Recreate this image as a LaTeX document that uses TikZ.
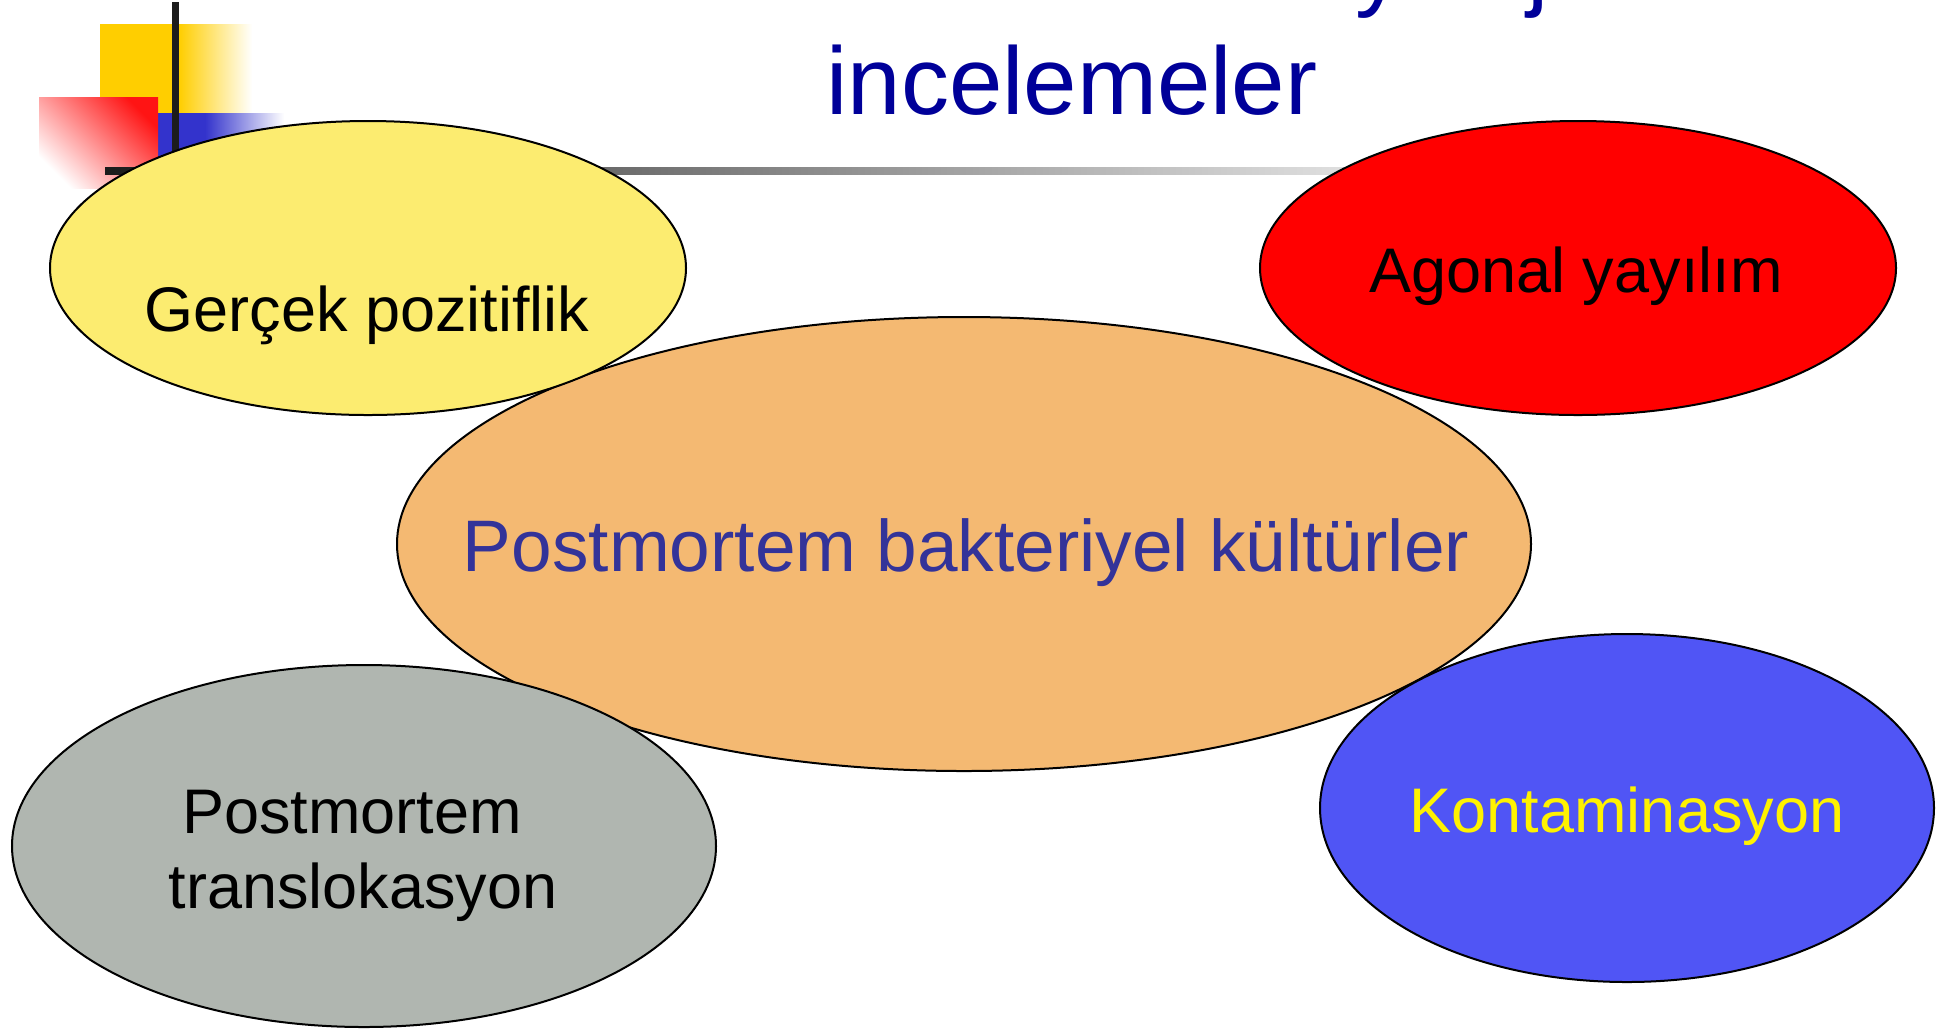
\documentclass[tikz,border=0pt]{standalone}
\usepackage{fontspec}
\setmainfont{Liberation Sans}
\usetikzlibrary{shapes.geometric}

\definecolor{titleblue}{RGB}{0,0,153}
\definecolor{textblue}{RGB}{51,51,153}
\definecolor{decoyellow}{RGB}{255,206,0}
\definecolor{decoblue}{RGB}{51,51,204}
\definecolor{decored}{RGB}{255,20,20}
\definecolor{barblack}{RGB}{28,28,28}
\definecolor{fillyellow}{RGB}{252,236,112}
\definecolor{fillorange}{RGB}{244,185,114}
\definecolor{fillgray}{RGB}{176,182,176}
\definecolor{fillblue}{RGB}{80,85,245}

\begin{document}
\begin{tikzpicture}
      [x = 0.5pt, y = -0.5pt,
      blob/.style= {
         draw,
         ellipse,
         line width = 1pt,
         inner sep = 0pt
      },
      lbl/.style= {
         inner sep = 0pt,
         anchor = base,
         font = \fontsize{31.5pt}{37.5pt}\selectfont
      },
      headline/.style= {
         inner sep = 0pt,
         text = titleblue,
         font = \fontsize{48pt}{56pt}\selectfont
      }]

      \useasboundingbox (0, 0) rectangle (1952, 1030);

      % corner decoration
      \fill[decoyellow] (100, 24) rectangle (180, 113);
      \shade[left color = decoyellow, right color = white] (179, 24) rectangle (252, 113);
      \fill[decoblue] (158, 113) rectangle (206, 167);
      \shade[left color = decoblue, right color = white] (205, 113) rectangle (284, 167);
      \shade[top color = decored, bottom color = white, shading angle = -45] (39, 97) rectangle (158, 188);
      \fill[barblack] (172, 2) rectangle (179, 170);
      \shade[left color = barblack, right color = black!6] (105, 167) rectangle (1450, 174);

      % title
      \node[headline, anchor = base] (title) at (1072, 114) {incelemeler};
      \node[headline, anchor = base west] (titley) at (1355, -2) {y};
      \node[headline, anchor = base west] (titlej) at (1527, -2) {j};

      \node[blob, fill = fillorange, minimum width = 567pt, minimum height = 227pt] (kultur) at (964, 544) {};
      \node[blob, fill = fillyellow, minimum width = 318pt, minimum height = 147pt] (gercek) at (368, 268) {};
      \node[blob, fill = red, minimum width = 318pt, minimum height = 147pt] (agonal) at (1578, 268) {};
      \node[blob, fill = fillgray, minimum width = 352pt, minimum height = 181pt] (transl) at (364, 846) {};
      \node[blob, fill = fillblue, minimum width = 307pt, minimum height = 174pt] (kontam) at (1627, 808) {};

      \node[lbl] (gercektxt) at (367, 331) {Gerçek pozitiflik};
      \node[lbl] (agonaltxt) at (1576, 292) {Agonal yayılım};
      \node[lbl, text = textblue, font = \fontsize{36.5pt}{44pt}\selectfont] (kulturtxt) at (966, 571) {Postmortem bakteriyel kültürler};
      \node[lbl] (postmtxt) at (352, 833) {Postmortem};
      \node[lbl] (transltxt) at (363, 908) {translokasyon};
      \node[lbl, text = yellow] (kontamtxt) at (1627, 832) {Kontaminasyon};

   \end{tikzpicture}
\end{document}
